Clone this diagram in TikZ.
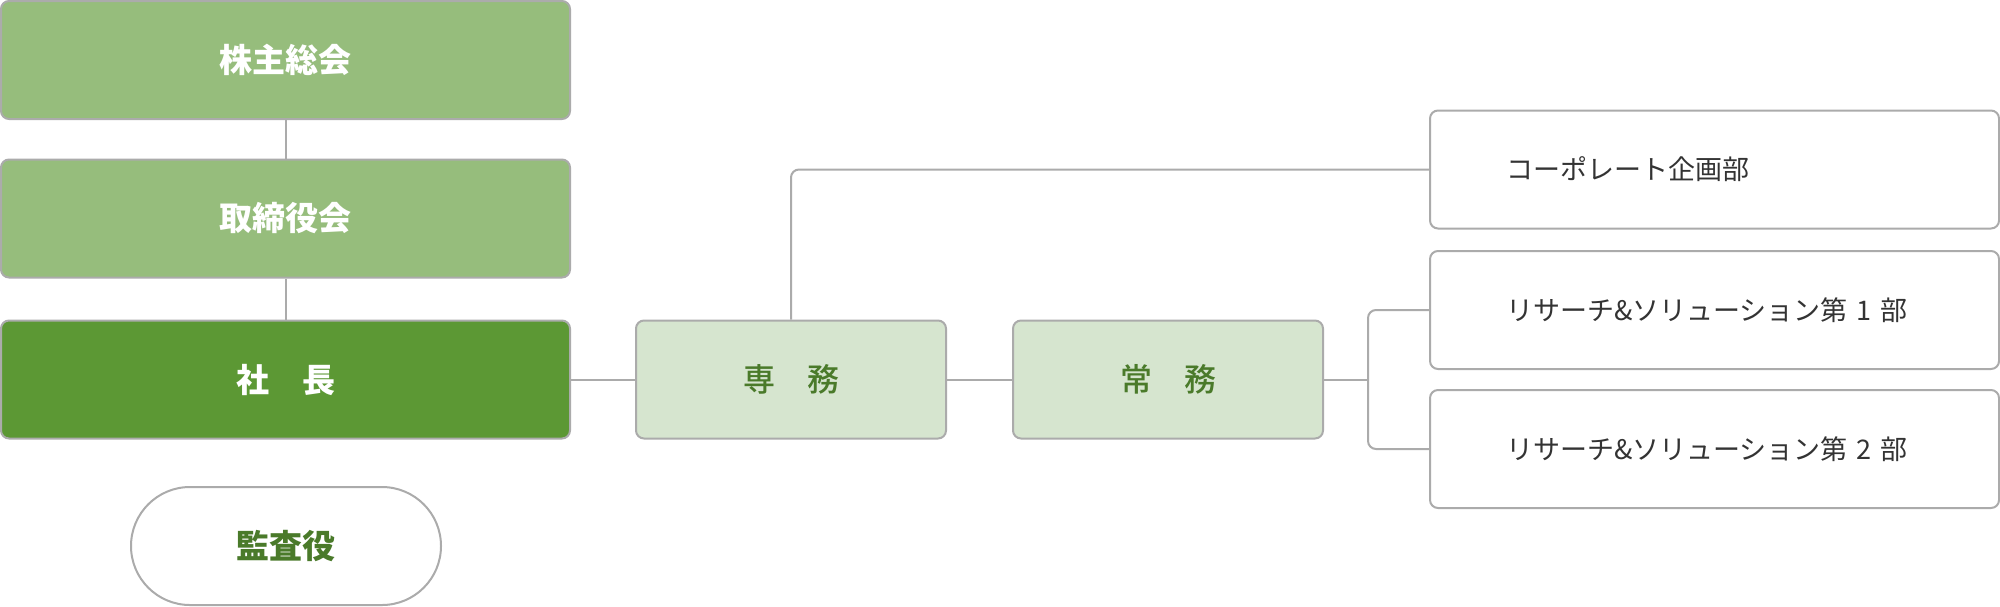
\documentclass[tikz,border=0pt]{standalone}
\usepackage{fontspec}
\setmainfont{Noto Sans CJK JP}
\newfontfamily\cjkmed{Noto Sans CJK JP Medium}
\definecolor{lightgreen}{HTML}{96BD7C}
\definecolor{darkgreen}{HTML}{5C9834}
\definecolor{palegreen}{HTML}{D6E5CF}
\definecolor{bordergray}{HTML}{ABABAB}
\definecolor{textgreen}{HTML}{4A7A2A}
\definecolor{textgray}{HTML}{333333}
\begin{document}
\begin{tikzpicture}[x=0.5pt,y=-0.5pt,
  box/.style={draw=bordergray, line width=1pt, rounded corners=4pt, minimum width=284.5pt, minimum height=59pt, inner sep=0pt},
  topbox/.style={box, fill=lightgreen, text=white, font=\fontsize{16.5}{20}\selectfont\bfseries},
  presbox/.style={box, fill=darkgreen, text=white, font=\fontsize{16.5}{20}\selectfont\bfseries},
  midbox/.style={draw=bordergray, line width=1pt, rounded corners=4pt, minimum width=155pt, minimum height=59pt, inner sep=0pt, fill=palegreen, text=textgreen, font=\fontsize{16}{20}\selectfont\cjkmed},
  deptbox/.style={box, fill=white, text=textgray, font=\fontsize{13.5}{16}\selectfont, text width=208.5pt, align=left},
  pill/.style={draw=bordergray, line width=1pt, rounded corners=29.5pt, minimum width=155pt, minimum height=59pt, inner sep=0pt, fill=white, text=textgreen, font=\fontsize{16.5}{20}\selectfont\bfseries},
  conn/.style={draw=bordergray, line width=1pt}
]
\useasboundingbox (0,0) rectangle (2000,606);
\node[topbox] (gm) at (285.5,60) {株主総会};
\node[topbox] (bd) at (285.5,218.5) {取締役会};
\node[presbox] (pres) at (285.5,379.5) {社　長};
\node[pill] (audit) at (286,546) {監査役};
\node[midbox] (senmu) at (791,379.5) {専　務};
\node[midbox] (joumu) at (1168,379.5) {常　務};
\node[deptbox] (corp) at (1714.5,169.5) {コーポレート企画部};
\node[deptbox] (rs1) at (1714.5,310) {リサーチ\&ソリューション第 1 部};
\node[deptbox] (rs2) at (1714.5,449) {リサーチ\&ソリューション第 2 部};
\coordinate (br) at (1368,379.5);
\draw[conn] (gm) -- (bd);
\draw[conn] (bd) -- (pres);
\draw[conn] (pres) -- (senmu);
\draw[conn] (senmu) -- (joumu);
\draw[conn, rounded corners=4pt] (senmu.north) |- (corp.west);
\draw[conn] (joumu.east) -- (br);
\draw[conn, rounded corners=4pt] (rs1.west) -| (br) |- (rs2.west);
\end{tikzpicture}
\end{document}
